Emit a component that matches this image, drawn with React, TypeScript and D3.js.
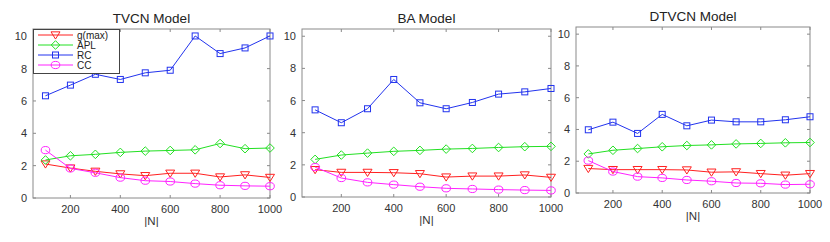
import React from "react";
import * as d3 from "d3";

const N = [100, 200, 300, 400, 500, 600, 700, 800, 900, 1000];
const xTicks = [200, 400, 600, 800, 1000];
const yTicks = [0, 2, 4, 6, 8, 10];
const seriesNames = ["g(max)", "APL", "RC", "CC"];
const panelTitles = ["TVCN Model", "BA Model", "DTVCN Model"];

const tvcnG = [2.1, 1.85, 1.65, 1.49, 1.38, 1.53, 1.53, 1.3, 1.43, 1.27];
const tvcnAPL = [2.35, 2.61, 2.7, 2.82, 2.9, 2.94, 2.98, 3.37, 3.05, 3.09];
const tvcnRC = [6.32, 6.98, 7.65, 7.33, 7.74, 7.9, 10.02, 8.93, 9.28, 10.02];
const tvcnCC = [2.96, 1.83, 1.56, 1.26, 1.07, 1.02, 0.89, 0.79, 0.75, 0.73];

const baG = [1.7, 1.53, 1.53, 1.51, 1.45, 1.24, 1.3, 1.3, 1.37, 1.22];
const baAPL = [2.34, 2.61, 2.73, 2.84, 2.9, 2.98, 3.02, 3.08, 3.13, 3.15];
const baRC = [5.42, 4.62, 5.49, 7.31, 5.86, 5.49, 5.88, 6.4, 6.54, 6.75];
const baCC = [1.86, 1.18, 0.91, 0.77, 0.64, 0.54, 0.5, 0.46, 0.43, 0.41];

const dtG = [1.54, 1.47, 1.47, 1.47, 1.45, 1.31, 1.33, 1.22, 1.12, 1.22];
const dtAPL = [2.46, 2.69, 2.8, 2.91, 2.99, 3.03, 3.09, 3.12, 3.16, 3.18];
const dtRC = [3.98, 4.46, 3.75, 4.95, 4.23, 4.59, 4.48, 4.48, 4.61, 4.8];
const dtCC = [2.04, 1.35, 1.03, 0.95, 0.82, 0.74, 0.63, 0.61, 0.53, 0.55];

const panelData = [
  [tvcnG, tvcnAPL, tvcnRC, tvcnCC],
  [baG, baAPL, baRC, baCC],
  [dtG, dtAPL, dtRC, dtCC],
];

const colors = ["#ff2020", "#22e022", "#2233ee", "#ff22ff"];
const markers = ["tri", "diamond", "square", "circle"];

const boxes = [
  { left: 33, right: 270, top: 29, bottom: 198 },
  { left: 302, right: 551, top: 29, bottom: 197 },
  { left: 576, right: 810, top: 27, bottom: 193 },
];

const FONT = "Liberation Sans, Arial, Helvetica, sans-serif";

function Marker({ type, x, y, color }: { type: string; x: number; y: number; color: string }) {
  const common = { fill: "none", stroke: color, strokeWidth: 1 };
  if (type === "tri") {
    const s = 4.5;
    return <path d={`M${x - s},${y - s * 0.7}L${x + s},${y - s * 0.7}L${x},${y + s * 0.9}Z`} {...common} />;
  }
  if (type === "diamond") {
    const s = 4.3;
    return <path d={`M${x},${y - s}L${x + s},${y}L${x},${y + s}L${x - s},${y}Z`} {...common} />;
  }
  if (type === "square") {
    const s = 3;
    return <rect x={x - s} y={y - s} width={2 * s} height={2 * s} {...common} />;
  }
  return <ellipse cx={x} cy={y} rx={4.3} ry={3.6} {...common} />;
}

function Panel({ idx }: { idx: number }) {
  const b = boxes[idx];
  const x = d3.scaleLinear().domain([50, 1000]).range([b.left, b.right]);
  const y = d3.scaleLinear().domain([0, 10.45]).range([b.bottom, b.top]);
  const line = d3
    .line<number>()
    .x((_, i) => x(N[i]))
    .y((v) => y(v));
  const data = panelData[idx];
  const axisColor = "#8a8a8a";
  const tl = 3;
  return (
    <g>
      <text
        x={(b.left + b.right) / 2}
        y={b.top - 6}
        textAnchor="middle"
        fontSize={13.5}
        fontFamily={FONT}
        fill="#222"
      >
        {panelTitles[idx]}
      </text>
      <rect x={b.left} y={b.top} width={b.right - b.left} height={b.bottom - b.top} fill="none" stroke={axisColor} strokeWidth={1} />
      {xTicks.map((t) => (
        <g key={"x" + t}>
          <line x1={x(t)} x2={x(t)} y1={b.bottom} y2={b.bottom - tl} stroke={axisColor} />
          <line x1={x(t)} x2={x(t)} y1={b.top} y2={b.top + tl} stroke={axisColor} />
          <text x={x(t)} y={b.bottom + 14.5} textAnchor="middle" fontSize={11} fontFamily={FONT} fill="#333">
            {t}
          </text>
        </g>
      ))}
      {yTicks.map((t) => (
        <g key={"y" + t}>
          <line x1={b.left} x2={b.left + tl} y1={y(t)} y2={y(t)} stroke={axisColor} />
          <line x1={b.right} x2={b.right - tl} y1={y(t)} y2={y(t)} stroke={axisColor} />
          <text x={b.left - 6} y={y(t) + 4} textAnchor="end" fontSize={11} fontFamily={FONT} fill="#333">
            {t}
          </text>
        </g>
      ))}
      <text x={(b.left + b.right) / 2} y={b.bottom + 27} textAnchor="middle" fontSize={11.5} fontFamily={FONT} fill="#333">
        |N|
      </text>
      {data.map((vals, si) => (
        <g key={"s" + si}>
          <path d={line(vals) || ""} fill="none" stroke={colors[si]} strokeWidth={1} />
          {vals.map((v, i) => (
            <Marker key={i} type={markers[si]} x={x(N[i])} y={y(v)} color={colors[si]} />
          ))}
        </g>
      ))}
      {idx === 0 && (
        <g>
          <rect x={b.left + 0.5} y={b.top + 0.5} width={86} height={44} fill="white" stroke="#444" strokeWidth={1} />
          {seriesNames.map((nm, si) => {
            const ly = b.top + 6 + si * 10;
            return (
              <g key={nm}>
                <line x1={b.left + 5} x2={b.left + 40} y1={ly} y2={ly} stroke={colors[si]} strokeWidth={1} />
                <Marker type={markers[si]} x={b.left + 22.5} y={ly} color={colors[si]} />
                <text x={b.left + 44} y={ly + 3.6} fontSize={10} fontFamily={FONT} fill="#222">
                  {nm}
                </text>
              </g>
            );
          })}
        </g>
      )}
    </g>
  );
}

export default function App() {
  return (
    <svg
      width={830}
      height={242}
      style={{ position: "absolute", left: 0, top: 0, background: "white" }}
    >
      <rect x={0} y={0} width={830} height={242} fill="white" />
      {[0, 1, 2].map((i) => (
        <Panel key={i} idx={i} />
      ))}
    </svg>
  );
}
